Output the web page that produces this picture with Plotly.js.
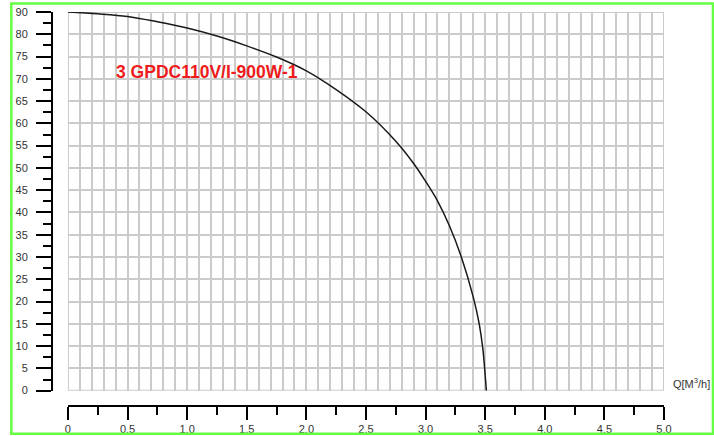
<!DOCTYPE html>
<html><head><meta charset="utf-8">
<script src="https://cdn.plot.ly/plotly-3.0.1.min.js"></script>
<style>body{margin:0;background:#fff}#chart{width:714px;height:436px}</style>
</head><body><div id="chart"></div>
<script>
// Pump curve: flow Q [m3/h] vs head H (axis units; top gridline is labelled "90")
const flowQ = [0, 0.25, 0.5, 0.75, 1.0, 1.25, 1.5, 1.75, 2.0, 2.25, 2.5, 2.75, 2.9, 3.0, 3.1, 3.2, 3.3, 3.4, 3.45, 3.48, 3.5, 3.51];
const headH = [85, 84.6, 84.0, 82.8, 81.4, 79.6, 77.4, 74.9, 71.8, 67.6, 62.6, 56.0, 51.0, 47.0, 42.6, 37.0, 30.0, 21.0, 15.0, 9.5, 3.5, 0];

const yTickVals = [0, 5, 10, 15, 20, 25, 30, 35, 40, 45, 50, 55, 60, 65, 70, 75, 80, 85];
const yTickText = ['0', '5', '10', '15', '20', '25', '30', '35', '40', '45', '50', '55', '60', '65', '70', '75', '80', '90'];
const xTickVals = [0, 0.5, 1.0, 1.5, 2.0, 2.5, 3.0, 3.5, 4.0, 4.5, 5.0];
const xTickText = ['0', '0.5', '1.0', '1.5', '2.0', '2.5', '3.0', '3.5', '4.0', '4.5', '5.0'];

const curveLabel = '3 GPDC110V/I-900W-1';
const xAxisLabel = 'Q[M<sup>3</sup>/h]';

const tickFont = {family: 'Liberation Sans, Arial, sans-serif', size: 11, color: '#333'};
const gridColor = '#cbcbcb';

const traces = [
  {x: [0], y: [0], xaxis: 'x', yaxis: 'y', type: 'scatter', mode: 'markers', marker: {opacity: 0, size: 1}, showlegend: false, hoverinfo: 'skip'},
  {x: flowQ, y: headH, xaxis: 'x2', yaxis: 'y', type: 'scatter', mode: 'lines',
   line: {color: '#1a1a1a', width: 1.5, shape: 'spline', smoothing: 1}, showlegend: false}
];

const layout = {
  width: 714, height: 436,
  margin: {l: 52, r: 50, t: 12, b: 30},
  paper_bgcolor: '#fff', plot_bgcolor: '#fff',
  showlegend: false,
  xaxis: {
    domain: [0.026, 1], range: [0, 5], anchor: 'y',
    showgrid: true, gridcolor: gridColor, gridwidth: 2,
    tickmode: 'linear', tick0: 0, dtick: 0.1,
    showticklabels: false, ticks: '', zeroline: false, showline: false
  },
  xaxis2: {
    overlaying: 'x', anchor: 'free', position: 0, range: [0, 5],
    tickmode: 'array', tickvals: xTickVals, ticktext: xTickText,
    ticks: 'outside', ticklen: 13, tickwidth: 2, tickcolor: '#000',
    minor: {tickmode: 'linear', tick0: 0, dtick: 0.25, ticks: 'outside', ticklen: 8, tickwidth: 2, tickcolor: '#000', showgrid: false},
    showgrid: false, zeroline: false,
    showline: true, linecolor: '#000', linewidth: 2,
    tickfont: tickFont
  },
  yaxis: {
    domain: [0.039, 1], range: [0, 85], anchor: 'free', position: 0,
    tickmode: 'array', tickvals: yTickVals, ticktext: yTickText,
    ticks: 'outside', ticklen: 15, tickwidth: 2, tickcolor: '#000',
    minor: {tickmode: 'linear', tick0: 0, dtick: 2.5, ticks: 'outside', ticklen: 8, tickwidth: 2, tickcolor: '#000', showgrid: false},
    showgrid: true, gridcolor: gridColor, gridwidth: 2,
    zeroline: false, showline: true, linecolor: '#000', linewidth: 2,
    tickfont: tickFont, ticklabelstandoff: 6
  },
  shapes: [
    {type: 'rect', xref: 'x', yref: 'y', x0: 0, x1: 5, y0: 0, y1: 85,
     line: {color: gridColor, width: 2}, layer: 'below'},
    {type: 'rect', xref: 'paper', yref: 'paper', x0: -0.0665, x1: 1.080, y0: -0.0703, y1: 1.0216,
     line: {color: '#66ff44', width: 2.5}, layer: 'above'}
  ],
  annotations: [
    {text: '<b>' + curveLabel + '</b>', xref: 'x', yref: 'y', x: 0.39, y: 71.5,
     xanchor: 'left', yanchor: 'middle', showarrow: false,
     font: {family: 'Liberation Sans, Arial, sans-serif', size: 17.5, color: '#ee1c1c'}},
    {text: xAxisLabel, xref: 'paper', yref: 'paper', x: 1.0114, y: 0.058,
     xanchor: 'left', yanchor: 'middle', showarrow: false,
     font: {family: 'Liberation Sans, Arial, sans-serif', size: 11, color: '#333'}}
  ]
};

Plotly.newPlot('chart', traces, layout, {displayModeBar: false, staticPlot: true});
</script>
</body></html>
